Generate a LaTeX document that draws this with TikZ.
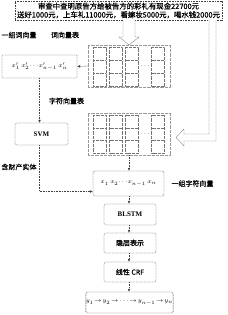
\documentclass[tikz,border=0pt]{standalone}
\usepackage{fontspec}
\setmainfont{Liberation Serif}
\newfontfamily\cjk[FakeBold=0.8]{Noto Sans CJK SC}
\usetikzlibrary{arrows.meta,calc}
\begin{document}
\begin{tikzpicture}[x=1pt,y=-1pt,
  box/.style={draw=black!75, dash pattern=on 1pt off 0.6pt, rounded corners=1.5pt, line width=0.35pt, inner sep=0pt, font=\bfseries\fontsize{7}{8}\selectfont},
  lbl/.style={inner sep=0pt, font=\cjk\fontsize{7}{8}\selectfont},
  arr/.style={draw=black!75, line width=0.35pt, dash pattern=on 1pt off 0.6pt, -{Latex[length=3pt,width=2.6pt]}},
  tab/.style={draw=black!40, dash pattern=on 0.7pt off 0.6pt, line width=0.3pt, inner sep=0pt, minimum width=82pt, minimum height=42pt},
  cell/.style={draw=black!55, dash pattern=on 0.7pt off 0.6pt, line width=0.3pt},
  hollow/.style={draw=black!65, dash pattern=on 0.8pt off 0.5pt, line width=0.35pt, fill=white},
  mth/.style={font=\fontsize{6.5}{7}\selectfont}
]
\useasboundingbox (0,0) rectangle (227,315);

% top box
\node[box, rounded corners=0pt, minimum width=207pt, minimum height=19pt, align=center,
      font=\cjk\fontsize{7.4}{8.6}\selectfont] (top) at (118.5,10.5)
  {审查中查明原告方给被告方的彩礼有现金22700元\\送好1000元，上车礼11000元，看嫁妆5000元，喝水钱2000元};

% tables
\node[tab] (wtab) at (129,66) {};
\node[tab] (ctab) at (129,134) {};
\foreach \c in {99.5,116,132,158} {
  \draw[cell] (\c-6.5,47) rectangle (\c+6.5,86);
  \draw[cell] (\c-6.5,60) -- (\c+6.5,60) (\c-6.5,73) -- (\c+6.5,73);
  \draw[cell] (\c-6.5,115) rectangle (\c+6.5,153);
  \draw[cell] (\c-6.5,127.7) -- (\c+6.5,127.7) (\c-6.5,140.3) -- (\c+6.5,140.3);
}
\node[mth, inner sep=0pt] (wdots) at (145,66) {$\cdots$};
\node[mth, inner sep=0pt] (cdots) at (145,134) {$\cdots$};

% hollow arrows
\draw[hollow] (123,20) -- (123,37) -- (119,37) -- (129,45) -- (139,37) -- (135,37) -- (135,20);
\draw[hollow] (209,20) -- (209,134) -- (184,134) -- (184,129) -- (176,137.5) -- (184,146) -- (184,141) -- (216,141) -- (216,20);

% labels
\node[lbl] (l1) at (19,35) {一组词向量};
\node[lbl] (l2) at (65,35) {词向量表};
\node[lbl] (l3) at (66.5,101) {字符向量表};
\node[lbl] (l4) at (19,167) {含财产实体};
\node[lbl] (l5) at (192.5,183.5) {一组字符向量};

% boxes
\node[box, rounded corners=0.5pt, minimum width=75pt, minimum height=23pt, mth] (wbox) at (39.5,66.5)
  {$x_1'\ x_2'{\cdots}x_{n-1}'\ x_n'$};
\node[box, minimum width=53pt, minimum height=22pt] (svm) at (41.5,134) {SVM};
\node[box, minimum width=71pt, minimum height=25pt, mth] (seq) at (128.5,183.5)
  {$x_1\ x_2{\cdots}x_{n-1}\ x_n$};
\node[box, minimum width=52pt, minimum height=21pt] (blstm) at (130,214.5) {BLSTM};
\node[box, minimum width=52pt, minimum height=20pt, font=\cjk\fontsize{7}{8}\selectfont] (hid) at (130,243) {隐层表示};
\node[box, minimum width=52pt, minimum height=20pt, font=\cjk\fontsize{7}{8}\selectfont] (crf) at (130,272) {线性 CRF};
\node[box, minimum width=73pt, minimum height=21pt, mth] (out) at (129.5,302.5)
  {$y_1\!\rightarrow\!y_2\!\rightarrow\!\cdots\!\rightarrow\!y_{n-1}\!\rightarrow\!y_n$};

% connectors
\draw[arr] (wtab.west) -- (wbox.east);
\draw[arr] (wbox.south) -- (wbox.south |- svm.north);
\draw[arr] (svm.south -| wbox.south) |- ([yshift=-8pt]seq.west);
\draw[arr] (ctab.south) -- (ctab.south |- seq.north);
\draw[arr] (ctab.south |- seq.south) -- (ctab.south |- blstm.north);
\draw[arr] (ctab.south |- blstm.south) -- (ctab.south |- hid.north);
\draw[arr] (ctab.south |- hid.south) -- (ctab.south |- crf.north);
\draw[arr] (ctab.south |- crf.south) -- (ctab.south |- out.north);
\end{tikzpicture}
\end{document}
